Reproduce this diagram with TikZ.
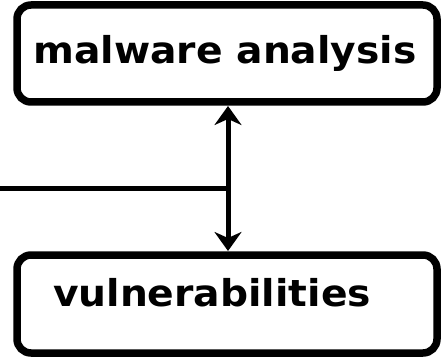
\documentclass[tikz,border=0pt]{standalone}
\usepackage{fontspec}
\setmainfont{DejaVu Sans}
\usetikzlibrary{arrows.meta}
\begin{document}
\begin{tikzpicture}[x=1pt,y=-1pt,
  box/.style={draw=black, line width=7.5pt, rounded corners=14pt, fill=white},
  label/.style={font=\fontsize{37}{40}\selectfont\bfseries, inner sep=0pt, anchor=base, xscale=1.06},
  link/.style={line width=5pt},
  tip/.style={-{Stealth[length=19pt,width=27pt,inset=6pt]}}]
  \useasboundingbox (0,0) rectangle (444,358);
  % the two boxes
  \draw[box] (17,5) rectangle (437,102);
  \draw[box] (17,255) rectangle (437,353);
  \coordinate (topb) at (228,106);
  \coordinate (botb) at (228,251);
  \node[label] (mal) at (225,64) {malware analysis};
  \node[label] (vul) at (212,306) {vulnerabilities};
  % connectors
  \coordinate (joint) at (228,189);
  \coordinate (west) at (0,189);
  \draw[link] (west) -- (joint);
  \draw[link,tip] (joint) -- (topb);
  \draw[link,tip] (joint) -- (botb);
\end{tikzpicture}
\end{document}
